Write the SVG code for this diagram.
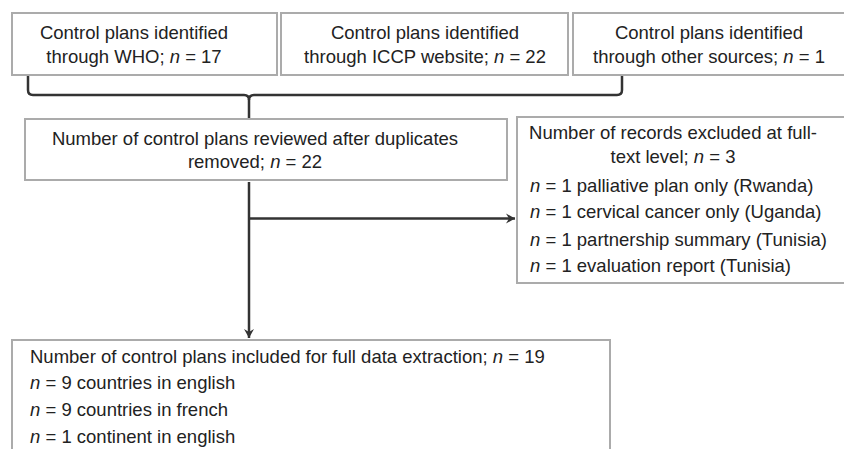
<svg xmlns="http://www.w3.org/2000/svg" width="844" height="449" viewBox="0 0 844 449">
<defs>
<style>
.box{fill:#ffffff;stroke:#ababab;stroke-width:2}
.t{font-family:"Liberation Sans",Arial,Helvetica,sans-serif;font-size:18.5px;fill:#222}
.c{text-anchor:middle}
.i{font-style:italic}
.ln{fill:none;stroke:#333;stroke-width:2.5}
</style>
<marker id="ah" markerWidth="12" markerHeight="12" refX="10" refY="6" orient="auto" markerUnits="userSpaceOnUse">
<path d="M1,1 L10,6 L1,11 L4,6 Z" fill="#333"/>
</marker>
</defs>
<rect x="0" y="0" width="844" height="449" fill="#ffffff"/>
<g id="connectors">
<path class="ln" d="M28,75 V90 Q28,95 33,95 H244 Q249,95 249,100 V118"/>
<path class="ln" d="M249,100 Q249,95 254,95 H617 Q622,95 622,90 V75"/>
<path class="ln" d="M249,182 V338" marker-end="url(#ah)"/>
<path class="ln" d="M249,218.5 H515" marker-end="url(#ah)"/>
</g>
<g id="who">
<rect class="box" x="12" y="13" width="265" height="62"/>
<text class="t c" x="134" y="39">Control plans identified</text>
<text class="t c" x="134" y="63">through WHO; <tspan class="i">n</tspan> = 17</text>
</g>
<g id="iccp">
<rect class="box" x="281" y="13" width="287" height="62"/>
<text class="t c" x="425" y="39">Control plans identified</text>
<text class="t c" x="425" y="63">through ICCP website; <tspan class="i">n</tspan> = 22</text>
</g>
<g id="other">
<rect class="box" x="573" y="13" width="290" height="62"/>
<text class="t c" x="709" y="39">Control plans identified</text>
<text class="t c" x="709" y="63">through other sources; <tspan class="i">n</tspan> = 1</text>
</g>
<g id="reviewed">
<rect class="box" x="25" y="119" width="482" height="61"/>
<text class="t c" x="255" y="145">Number of control plans reviewed after duplicates</text>
<text class="t c" x="255" y="168">removed; <tspan class="i">n</tspan> = 22</text>
</g>
<g id="excluded">
<rect class="box" x="517" y="117" width="346" height="166"/>
<text class="t c" x="673" y="139">Number of records excluded at full-</text>
<text class="t c" x="673" y="163">text level; <tspan class="i">n</tspan> = 3</text>
<text class="t" x="530" y="192"><tspan class="i">n</tspan> = 1 palliative plan only (Rwanda)</text>
<text class="t" x="530" y="218"><tspan class="i">n</tspan> = 1 cervical cancer only (Uganda)</text>
<text class="t" x="530" y="246"><tspan class="i">n</tspan> = 1 partnership summary (Tunisia)</text>
<text class="t" x="530" y="272"><tspan class="i">n</tspan> = 1 evaluation report (Tunisia)</text>
</g>
<g id="included">
<rect class="box" x="12" y="340" width="598" height="130"/>
<text class="t" x="30" y="363">Number of control plans included for full data extraction; <tspan class="i">n</tspan> = 19</text>
<text class="t" x="30" y="389"><tspan class="i">n</tspan> = 9 countries in english</text>
<text class="t" x="30" y="416"><tspan class="i">n</tspan> = 9 countries in french</text>
<text class="t" x="30" y="443"><tspan class="i">n</tspan> = 1 continent in english</text>
</g>
</svg>
